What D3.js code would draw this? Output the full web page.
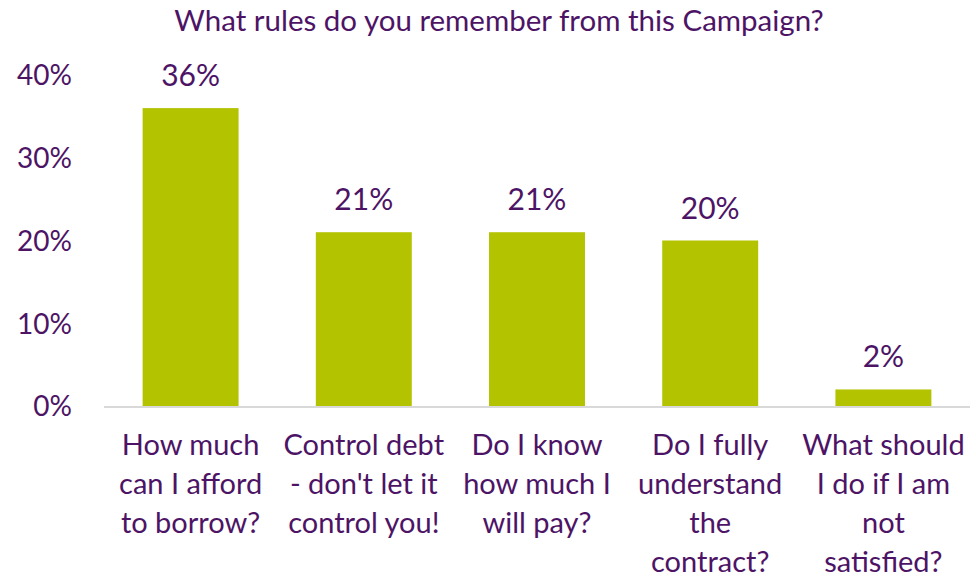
<!DOCTYPE html>
<html>
<head>
<meta charset="utf-8">
<script src="https://cdn.jsdelivr.net/npm/d3@7"></script>
<style>
  html, body { margin: 0; padding: 0; background: #fff; }
  svg { display: block; }
  text { font-family: Lato, "Open Sans", sans-serif; fill: #4d1466; }
</style>
</head>
<body>
<svg id="chart" width="976" height="578"></svg>
<script>
// Survey answers: which campaign rules respondents remember
const title = "What rules do you remember from this Campaign?";
const categories = [
  "How much can I afford to borrow?",
  "Control debt - don't let it control you!",
  "Do I know how much I will pay?",
  "Do I fully understand the contract?",
  "What should I do if I am not satisfied?"
];
// Wrapped lines for each category label
const categoryLines = [
  ["How much", "can I afford", "to borrow?"],
  ["Control debt", "- don't let it", "control you!"],
  ["Do I know", "how much I", "will pay?"],
  ["Do I fully", "understand", "the", "contract?"],
  ["What should", "I do if I am", "not", "satisfied?"]
];
const values = [0.36, 0.21, 0.21, 0.20, 0.02];
const yTicks = [0, 0.1, 0.2, 0.3, 0.4];

const barColor = "#b3c300";
const textColor = "#4d1466";

const svg = d3.select("#chart");
const margin = { left: 104, right: 6, top: 75, bottom: 172 };
const width = 976, height = 578;

const x = d3.scaleBand()
  .domain(categories)
  .range([margin.left, width - margin.right])
  .paddingInner(0.446)
  .paddingOuter(0.223);

const y = d3.scaleLinear()
  .domain([0, 0.4])
  .range([height - margin.bottom, margin.top]);

const pct = d3.format(".0%");

// Title
svg.append("text")
  .attr("x", 499)
  .attr("y", 31)
  .attr("text-anchor", "middle")
  .style("font-size", "29.5px")
  .text(title);

// Y axis labels (no axis line or tick marks)
const yAxis = d3.axisLeft(y).tickValues(yTicks).tickFormat(pct).tickSize(0).tickPadding(0);
const yg = svg.append("g")
  .attr("transform", `translate(${72},0)`)
  .call(yAxis);
yg.select(".domain").remove();
yg.selectAll("text")
  .attr("fill", textColor)
  .style("font-family", "Lato, 'Open Sans', sans-serif")
  .style("font-size", "28px")
  .attr("dy", "0.35em");

// Bars
svg.append("g").selectAll("rect")
  .data(values)
  .join("rect")
  .attr("x", (d, i) => x(categories[i]))
  .attr("y", d => y(d))
  .attr("width", x.bandwidth())
  .attr("height", d => y(0) - y(d))
  .attr("fill", barColor);

// Baseline
svg.append("line")
  .attr("x1", margin.left)
  .attr("x2", width - margin.right)
  .attr("y1", y(0) + 1)
  .attr("y2", y(0) + 1)
  .attr("stroke", "#d9d9d9")
  .attr("stroke-width", 2);

// Value labels
svg.append("g").selectAll("text")
  .data(values)
  .join("text")
  .attr("x", (d, i) => x(categories[i]) + x.bandwidth() / 2)
  .attr("y", d => y(d) - 22)
  .attr("text-anchor", "middle")
  .style("font-size", "30px")
  .text(d => pct(d));

// Category labels
const lineHeight = 39;
const firstBaseline = 455;
const catG = svg.append("g");
categoryLines.forEach((lines, i) => {
  const cx = x(categories[i]) + x.bandwidth() / 2;
  const t = catG.append("text")
    .attr("x", cx)
    .attr("y", firstBaseline)
    .attr("text-anchor", "middle")
    .style("font-size", "29px");
  lines.forEach((ln, j) => {
    t.append("tspan")
      .attr("x", cx)
      .attr("y", firstBaseline + j * lineHeight)
      .text(ln);
  });
});
</script>
</body>
</html>
